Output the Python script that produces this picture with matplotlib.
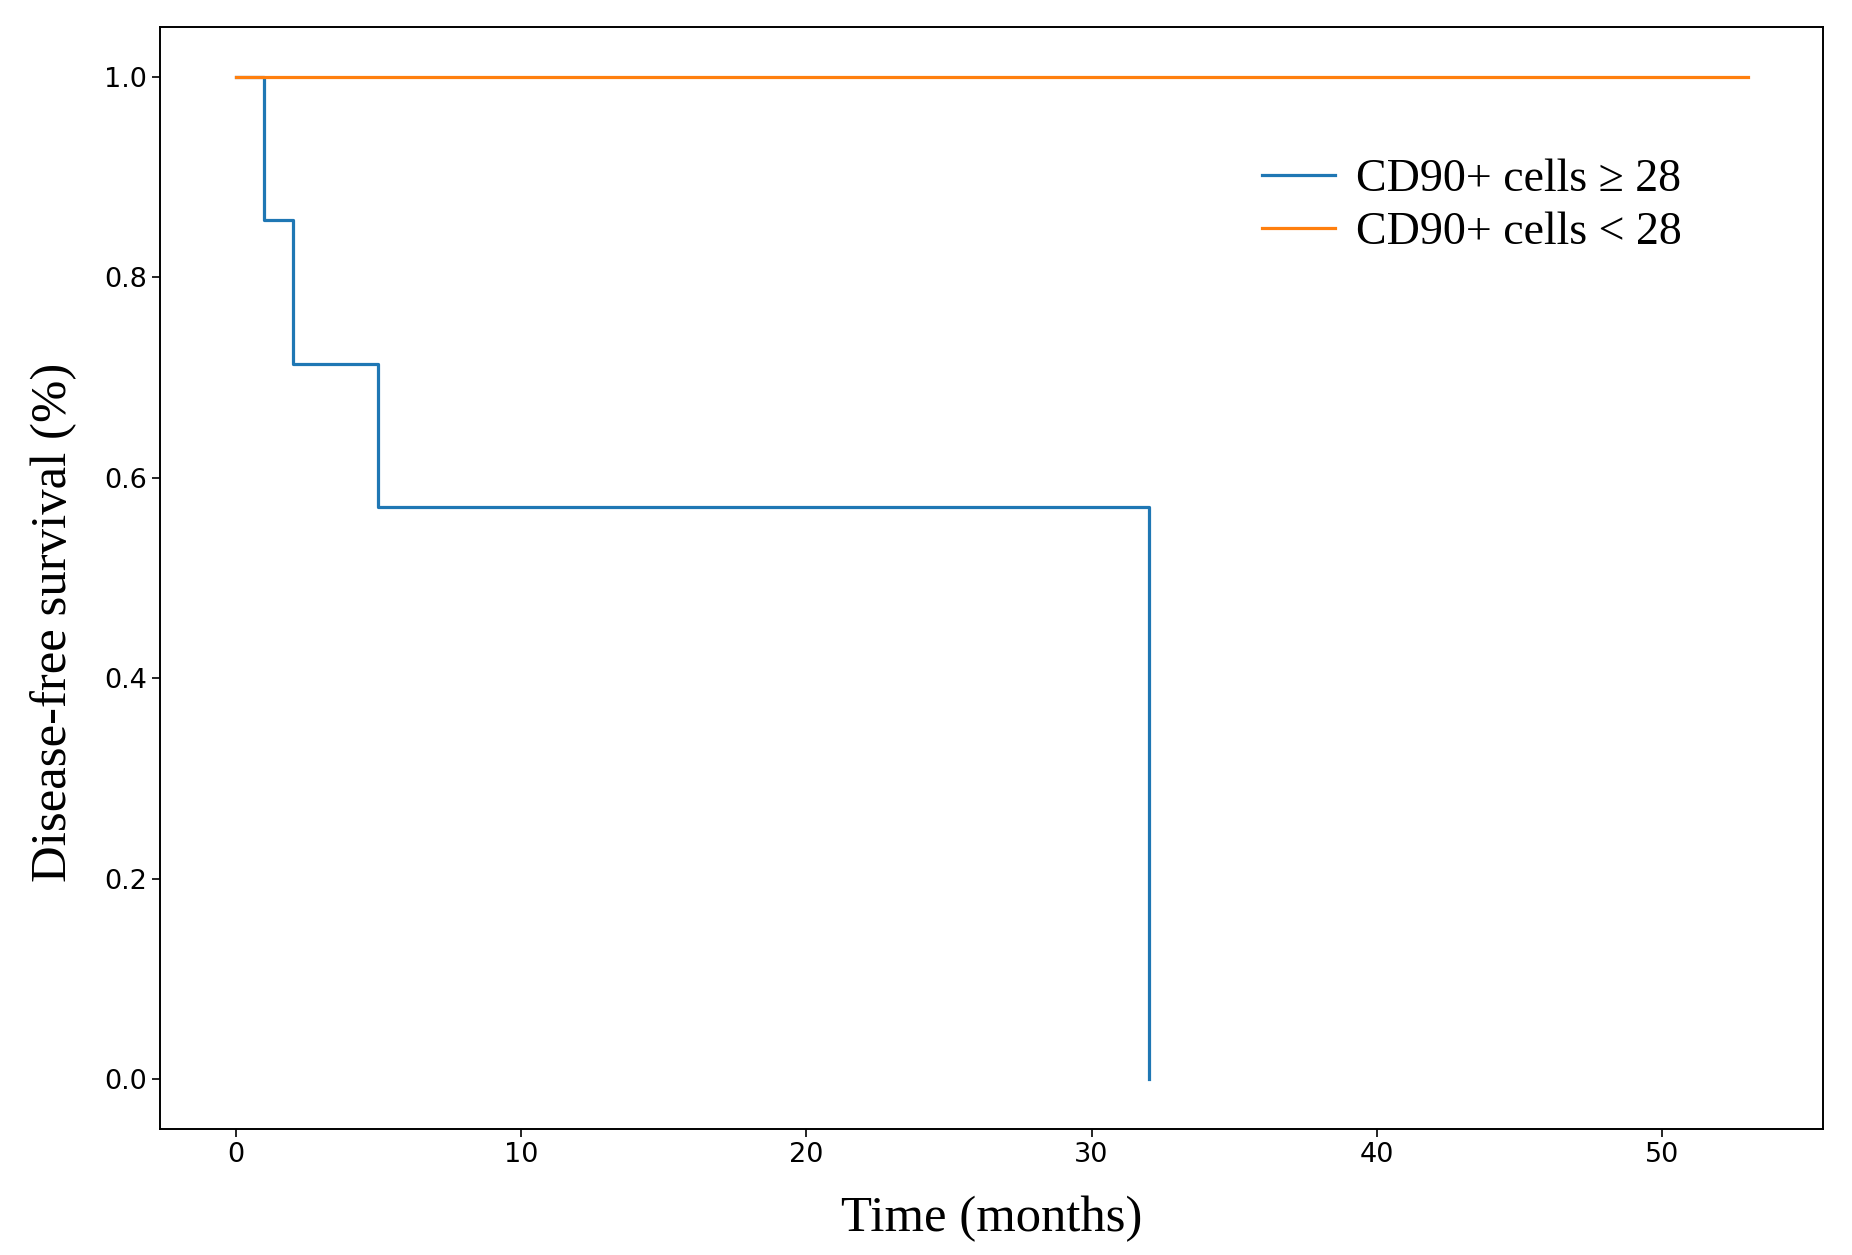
import numpy as np
import matplotlib.pyplot as plt

# Kaplan-Meier style step data
high_time = [0, 1, 2, 5, 32]
high_surv = [1.0, 0.857, 0.714, 0.571, 0.0]
low_time = [0, 53]
low_surv = [1.0, 1.0]

high_label = 'CD90+ cells \u2265 28'
low_label = 'CD90+ cells < 28'
xticks = [0, 10, 20, 30, 40, 50]
yticks = [0.0, 0.2, 0.4, 0.6, 0.8, 1.0]

serif = ['Liberation Serif', 'DejaVu Serif']

fig = plt.figure(figsize=(18.52, 12.55), dpi=100)
ax = fig.add_axes([0.0864, 0.1004, 0.8981, 0.8781])

ax.step(high_time, high_surv, where='post', color='#1f77b4', linewidth=2.3, label=high_label)
ax.step(low_time, low_surv, where='post', color='#ff7f0e', linewidth=2.3, label=low_label)

ax.set_xticks(xticks)
ax.set_yticks(yticks)
ax.set_yticklabels(['%.1f' % v for v in yticks])
ax.tick_params(labelsize=19.5, length=6, width=1.2)
for s in ax.spines.values():
    s.set_linewidth(1.4)

ax.set_xlabel('Time (months)', fontsize=36.5, family=serif, labelpad=20)
ax.set_ylabel('Disease-free survival (%)', fontsize=36.5, family=serif)
ax.yaxis.set_label_coords(-0.050, 0.46)

ax.legend(loc='upper left', bbox_to_anchor=(0.6815, 0.874), bbox_transform=fig.transFigure,
          frameon=False, borderpad=0, borderaxespad=0, handlelength=1.6,
          handletextpad=0.45, labelspacing=0.23, prop={'family': serif, 'size': 33})

fig.savefig('out.png', dpi=100)
